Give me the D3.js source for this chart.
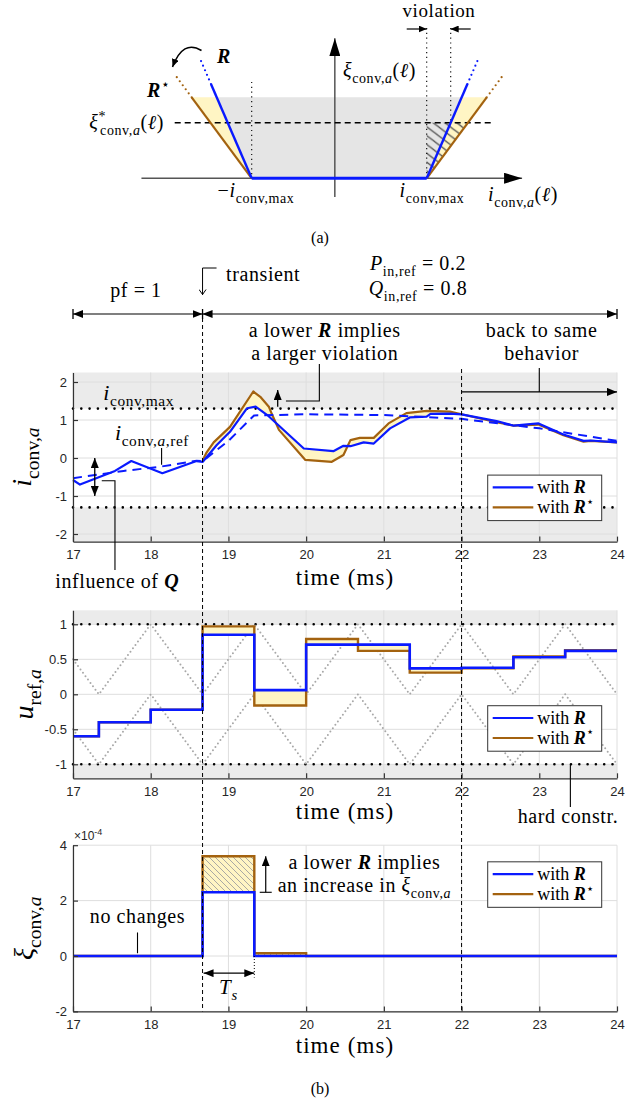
<!DOCTYPE html>
<html>
<head>
<meta charset="UTF-8" />
<title>Soft constraint violation</title>
<script src="https://d3js.org/d3.v7.min.js"></script>
<style>
  body { margin: 0; background: #fff; }
  text { white-space: pre; }
</style>
</head>
<body>
<div id="chart"></div>
<script>
// ---------------- data ----------------
const X_DOMAIN = [17, 24];
const X_TICKS = [17, 18, 19, 20, 21, 22, 23, 24];
const T_TRANSIENT = 18.667;
const T_BACK = 22;

// panel 1: converter current
const I_MAX = 1.3;
const I_TICKS = [-2, -1, 0, 1, 2];
const iT_R = [17, 17.09, 17.54, 17.75, 18.15, 18.59, 18.67, 18.85, 19.02, 19.24, 19.35, 19.5, 19.97, 20.35, 20.48, 20.57, 20.74, 20.87, 21.08, 21.34, 21.55, 21.6, 21.85, 22, 22.45, 22.67, 22.99, 23.31, 23.57, 23.66, 24];
const iV_R = [-0.58, -0.7, -0.34, -0.08, -0.4, -0.08, -0.1, 0.34, 0.69, 1.31, 1.35, 1.13, 0.25, 0.18, 0.32, 0.31, 0.41, 0.38, 0.78, 1.07, 1.09, 1.16, 1.17, 1.15, 0.97, 0.85, 0.91, 0.62, 0.45, 0.46, 0.41];
const iT_Rs = [18.67, 18.72, 18.81, 19.02, 19.32, 19.41, 19.52, 19.56, 19.65, 19.99, 20.33, 20.48, 20.57, 20.69, 20.87, 21.06, 21.29, 21.55, 21.85, 22, 22.45, 22.67, 22.99, 23.31, 23.57, 23.66, 24];
const iV_Rs = [-0.05, 0.15, 0.41, 0.82, 1.75, 1.61, 1.35, 1.15, 0.74, -0.05, -0.1, 0.08, 0.47, 0.53, 0.53, 0.91, 1.18, 1.24, 1.22, 1.15, 0.94, 0.85, 0.88, 0.6, 0.43, 0.45, 0.41];
const iT_ref = [17, 17.65, 18.12, 18.59, 18.67, 19.0, 19.33, 20, 21, 22, 23, 24];
const iV_ref = [-0.53, -0.34, -0.23, -0.07, -0.08, 0.45, 1.12, 1.15, 1.13, 1.03, 0.78, 0.45];

// panel 2: modulation reference (one value per sampling period)
const U_MAX = 1;
const U_TICKS = [-1, -0.5, 0, 0.5, 1];
const stepT = [17, 17.333, 18, 18.667, 19.333, 20, 20.667, 21.333, 22, 22.667, 23.333, 24];
const u_R  = [-0.6, -0.4, -0.22, 0.85, 0.06, 0.71, 0.71, 0.37, 0.38, 0.53, 0.62, 0.62];
const u_Rs = [-0.6, -0.4, -0.22, 0.97, -0.16, 0.79, 0.62, 0.31, 0.37, 0.54, 0.63, 0.63];
const carrierUp = [0.5, 0, 1, 0, 1, 0, 1, 0, 1, 0, 1, 0];
const carrierLo = [-0.5, -1, 0, -1, 0, -1, 0, -1, 0, -1, 0, -1];

// panel 3: slack variable (x1e-4)
const XI_TICKS = [-2, 0, 2, 4];
const xiT = [17, 18.667, 19.333, 20, 24];
const xi_R  = [0, 2.3, 0, 0, 0];
const xi_Rs = [0, 3.6, 0.1, 0, 0];

// schematic (a): constraint shapes, in units of i_conv,max and the shaded height
const SLOPE_R = 0.4;        // di per unit xi, with R
const SLOPE_RS = 0.686;     // di per unit xi, with R*
const XI_STAR = 0.686;

// ---------------- style ----------------
const SERIF = "'Liberation Serif','Times New Roman',serif";
const SANS = "'Liberation Sans',Arial,Helvetica,sans-serif";
const BLUE = "#0a1aff";
const BROWN = "#a3620f";
const YELLOW = "#fff5c4";
const BAND = "#ebebeb";
const GRID = "#dedede";
const AXIS = "#333";

const svg = d3.select("#chart").append("svg")
  .attr("width", 639).attr("height", 1104)
  .style("background", "#fff");

const defs = svg.append("defs");
function marker(id, w, h, open) {
  const m = defs.append("marker").attr("id", id)
    .attr("viewBox", `0 0 ${w} ${h}`).attr("refX", w).attr("refY", h / 2)
    .attr("markerWidth", w).attr("markerHeight", h)
    .attr("markerUnits", "userSpaceOnUse").attr("orient", "auto-start-reverse");
  if (open) {
    m.append("path").attr("d", `M0.5,0.5L${w - 0.5},${h / 2}L0.5,${h - 0.5}`)
      .attr("fill", "none").attr("stroke", "#000").attr("stroke-width", 1);
  } else {
    m.append("path").attr("d", `M0,0L${w},${h / 2}L0,${h}Z`).attr("fill", "#000");
  }
}
marker("ah", 10, 8);
marker("ahS", 8, 7);
marker("ahBig", 18, 11);
marker("av", 6, 8, true);

defs.append("pattern").attr("id", "hatch3").attr("patternUnits", "userSpaceOnUse")
  .attr("width", 6).attr("height", 6)
  .append("path").attr("d", "M-1,-1L7,7M-1,5L1,7M5,-1L7,1")
  .attr("stroke", "#a0a0a0").attr("stroke-width", 0.9);
defs.append("pattern").attr("id", "hatchA").attr("patternUnits", "userSpaceOnUse")
  .attr("width", 10).attr("height", 10).attr("patternTransform", "rotate(-8)")
  .append("path").attr("d", "M-1,-1L11,11M-1,9L1,11M9,-1L11,1")
  .attr("stroke", "#555").attr("stroke-width", 1.3);

function tex(parent, pieces, size, xx, yy, anchor) {
  const t = parent.append("text").attr("x", xx).attr("y", yy)
    .attr("font-family", SERIF).attr("font-size", size)
    .attr("text-anchor", anchor || "start").attr("fill", "#000");
  if (size >= 19 && size <= 22) t.attr("letter-spacing", 0.6);
  let cur = 0;
  pieces.forEach(p => {
    if (typeof p === "string") p = { t: p };
    const lvl = p.sub ? 0.28 * size : p.sup ? -0.42 * size : 0;
    const s = t.append("tspan").text(p.t).attr("dy", lvl - cur);
    if (p.sub || p.sup) s.attr("font-size", size * 0.7);
    if (p.it) s.attr("font-style", "italic");
    if (p.bf) s.attr("font-weight", "bold");
    if (p.dx) s.attr("dx", p.dx);
    cur = lvl;
  });
  return t;
}
const line = d3.line();
function poly(parent, pts, stroke, width, dash, marks) {
  const p = parent.append("path").attr("d", line(pts))
    .attr("fill", "none").attr("stroke", stroke).attr("stroke-width", width);
  if (dash) p.attr("stroke-dasharray", dash).attr("stroke-linecap", dash.startsWith("0") ? "round" : "butt");
  if (marks && marks.end) p.attr("marker-end", `url(#${marks.end})`);
  if (marks && marks.start) p.attr("marker-start", `url(#${marks.start})`);
  return p;
}

// ---------------- (a) schematic ----------------
const xs = d3.scaleLinear().domain([-1, 1]).range([251.7, 426.7]);
const ys = d3.scaleLinear().domain([0, 1]).range([178.3, 97.3]);
const ga = svg.append("g");

ga.append("path").attr("fill", "#e5e5e5").attr("d", line([
  [xs(-1 - SLOPE_R), ys(1)], [xs(1 + SLOPE_R), ys(1)], [xs(1), ys(0)], [xs(-1), ys(0)]
]) + "Z");
[-1, 1].forEach(s => {
  ga.append("path").attr("fill", YELLOW).attr("d", line([
    [xs(s * (1 + SLOPE_RS)), ys(1)], [xs(s * (1 + SLOPE_R)), ys(1)], [xs(s), ys(0)]
  ]) + "Z");
});
ga.append("path").attr("fill", "url(#hatchA)").attr("d", line([
  [xs(1), ys(XI_STAR)], [xs(1 + SLOPE_RS * XI_STAR), ys(XI_STAR)], [xs(1), ys(0)]
]) + "Z");

// axes of schematic
poly(ga, [[xs(-2.26), ys(0)], [xs(2.09), ys(0)]], "#555", 1.5, null, { end: "ahBig" });
poly(ga, [[xs(-0.05), ys(-0.23)], [xs(-0.05), ys(1.73)]], "#555", 1.5, null, { end: "ahBig" });

// dotted guides
const DOT = "1.2,3.6";
poly(ga, [[xs(-1), ys(1.19)], [xs(-1), ys(0)]], "#000", 1.1, DOT);
poly(ga, [[xs(1), 28], [xs(1), ys(0)]], "#000", 1.1, DOT);
poly(ga, [[xs(1 + SLOPE_R * XI_STAR), 28], [xs(1 + SLOPE_R * XI_STAR), ys(XI_STAR)]], "#000", 1.1, DOT);
// xi* dashed
poly(ga, [[xs(-1.88), ys(XI_STAR)], [xs(1.76), ys(XI_STAR)]], "#000", 1.6, "6,4");

// constraint lines
[-1, 1].forEach(s => {
  poly(ga, [[xs(s), ys(0)], [xs(s * (1 + SLOPE_RS)), ys(1)]], BROWN, 2.2);
  poly(ga, [[xs(s * (1 + SLOPE_RS)), ys(1)], [xs(s * (1 + SLOPE_RS * 1.26)), ys(1.26)]], BROWN, 2.2, "0,5");
  poly(ga, [[xs(s), ys(0)], [xs(s * (1 + SLOPE_R * 1.164)), ys(1.164)]], BLUE, 2.4);
  poly(ga, [[xs(s * (1 + SLOPE_R * 1.164)), ys(1.164)], [xs(s * (1 + SLOPE_R * 1.5)), ys(1.5)]], BLUE, 2.2, "0,5");
});
poly(ga, [[xs(-1), ys(0)], [xs(1), ys(0)]], BLUE, 3);

// violation arrows
poly(ga, [[xs(1) - 20, 29], [xs(1), 29]], "#000", 1.2, null, { end: "ahS" });
poly(ga, [[xs(1 + SLOPE_R * XI_STAR) + 20, 29], [xs(1 + SLOPE_R * XI_STAR), 29]], "#000", 1.2, null, { end: "ahS" });
tex(ga, ["violation"], 19, 439, 17, "middle");

// curved arrow R -> R*
ga.append("path").attr("d", "M201.5,50.5 Q183,39 172.5,67")
  .attr("fill", "none").attr("stroke", "#000").attr("stroke-width", 1.5)
  .attr("marker-end", "url(#ahS)");
tex(ga, [{ t: "R", it: 1, bf: 1 }], 20, 217, 63);
tex(ga, [{ t: "R", it: 1, bf: 1 }, { t: "⋆", sup: 1 }], 20, 147, 97);

tex(ga, [{ t: "ξ", it: 1 }, { t: "*", sup: 1 }, { t: "conv,", sub: 1, dx: -6 }, { t: "a", sub: 1, it: 1 }, "(", { t: "ℓ", it: 1 }, ")"], 20, 164, 129, "end");
tex(ga, [{ t: "ξ", it: 1 }, { t: "conv,", sub: 1 }, { t: "a", sub: 1, it: 1 }, "(", { t: "ℓ", it: 1 }, ")"], 20, 343, 77);
tex(ga, ["−", { t: "i", it: 1 }, { t: "conv,max", sub: 1 }], 20, 256, 197, "middle");
tex(ga, [{ t: "i", it: 1 }, { t: "conv,max", sub: 1 }], 20, 432, 197, "middle");
tex(ga, [{ t: "i", it: 1 }, { t: "conv,", sub: 1 }, { t: "a", sub: 1, it: 1 }, "(", { t: "ℓ", it: 1 }, ")"], 20, 488, 201);
tex(ga, ["(a)"], 16, 320, 243, "middle");

// ---------------- (b) time plots ----------------
const x = d3.scaleLinear().domain(X_DOMAIN).range([73, 617]);
const zip = (ts, vs) => ts.map((t, i) => [t, vs[i]]);

function makePanel(top, bottom, yDomain, yTicks, limit) {
  const y = d3.scaleLinear().domain(yDomain).range([bottom, top]);
  const g = svg.append("g");
  if (limit != null) {
    g.append("rect").attr("x", x(17)).attr("y", top).attr("width", x(24) - x(17))
      .attr("height", y(limit) - top).attr("fill", BAND);
    g.append("rect").attr("x", x(17)).attr("y", y(-limit)).attr("width", x(24) - x(17))
      .attr("height", bottom - y(-limit)).attr("fill", BAND);
  }
  g.append("g").selectAll("line").data(X_TICKS).join("line")
    .attr("x1", d => x(d)).attr("x2", d => x(d)).attr("y1", top).attr("y2", bottom)
    .attr("stroke", GRID).attr("stroke-width", 1);
  g.append("g").selectAll("line").data(yTicks).join("line")
    .attr("x1", x(17)).attr("x2", x(24)).attr("y1", d => y(d)).attr("y2", d => y(d))
    .attr("stroke", GRID).attr("stroke-width", 1);
  if (limit != null) {
    [limit, -limit].forEach(v => poly(g, [[x(17), y(v)], [x(24), y(v)]], "#000", 2.6, "0,8.3"));
  }
  return { g, y, top, bottom, yTicks };
}
function axes(p) {
  const gx = p.g.append("g").attr("transform", `translate(0,${p.bottom})`)
    .call(d3.axisBottom(x).tickValues(X_TICKS).tickSize(-5).tickSizeOuter(0).tickPadding(8).tickFormat(d => String(d)));
  const gy = p.g.append("g").attr("transform", `translate(${x(17)},0)`)
    .call(d3.axisLeft(p.y).tickValues(p.yTicks).tickSize(-5).tickSizeOuter(0).tickPadding(6).tickFormat(d => String(d)));
  [gx, gy].forEach(a => {
    a.selectAll("path,line").attr("stroke", AXIS).attr("stroke-width", 1.2);
    a.selectAll("text").attr("font-family", SANS).attr("font-size", 13).attr("fill", "#262626");
  });
}
function legend(p, yv) {
  const top = p.y(yv), left = 487.7;
  const g = p.g.append("g");
  g.append("rect").attr("x", left).attr("y", top).attr("width", 114).attr("height", 45.5)
    .attr("fill", "#fff").attr("stroke", "#333").attr("stroke-width", 1);
  [[BLUE, false], [BROWN, true]].forEach(([c, star], k) => {
    const yy = top + 12.3 + 20 * k;
    poly(g, [[left + 5, yy], [left + 45.6, yy]], c, 2.2);
    const parts = ["with ", { t: "R", it: 1, bf: 1 }];
    if (star) parts.push({ t: "⋆", sup: 1 });
    tex(g, parts, 18, left + 49.5, yy + 6);
  });
}
function timeLabel(p, off) {
  tex(p.g, ["time (ms)"], 23, x(20.5), p.bottom + off, "middle").attr("letter-spacing", 1.1);
}
function yLabel(p, pieces, xx) {
  tex(p.g, pieces, 28, 0, 0, "middle")
    .attr("transform", `translate(${xx},${(p.top + p.bottom) / 2}) rotate(-90)`);
}

// ----- panel 1 -----
const p1 = makePanel(372.5, 541.6, [-2.2, 2.25], I_TICKS, I_MAX);
{
  const y = p1.y, g = p1.g;
  const bl = zip(iT_R, iV_R), br = zip(iT_Rs, iV_Rs);
  const fillPts = br.filter(d => d[0] <= T_BACK)
    .concat(bl.filter(d => d[0] >= 18.67 && d[0] <= T_BACK).reverse());
  g.append("path").attr("d", line(fillPts.map(d => [x(d[0]), y(d[1])])) + "Z").attr("fill", YELLOW);
  poly(g, br.map(d => [x(d[0]), y(d[1])]), BROWN, 2.2).attr("stroke-linejoin", "round");
  poly(g, bl.map(d => [x(d[0]), y(d[1])]), BLUE, 2.2).attr("stroke-linejoin", "round");
  poly(g, zip(iT_ref, iV_ref).map(d => [x(d[0]), y(d[1])]), BLUE, 2, "9,6");
  axes(p1);
  legend(p1, -0.45);
  timeLabel(p1, 43);
  yLabel(p1, [{ t: "i", it: 1 }, { t: "conv,", sub: 1 }, { t: "a", sub: 1, it: 1 }], 31);

  tex(g, [{ t: "i", it: 1 }, { t: "conv,max", sub: 1 }], 22, x(17.39), 400);
  tex(g, [{ t: "i", it: 1 }, { t: "conv,", sub: 1 }, { t: "a", sub: 1, it: 1 }, { t: ",ref", sub: 1 }], 22, x(17.54), 440);
  poly(g, [[x(18.14), 448], [x(18.14), y(-0.18)]], "#000", 1.1);
  // influence of Q
  poly(g, [[x(17.28), y(-0.5)], [x(17.28), y(0)]], "#000", 1.3, null, { end: "ah" });
  poly(g, [[x(17.28), y(-0.5)], [x(17.28), y(-1)]], "#000", 1.3, null, { end: "ah" });
  poly(g, [[x(17.37), y(-0.6)], [x(17.54), y(-0.6)], [x(17.54), 570]], "#000", 1.1);
  tex(g, ["influence of ", { t: "Q", it: 1, bf: 1 }], 20, x(17.57), 588, "middle");
  // larger violation
  poly(g, [[x(19.634), y(1.35)], [x(19.634), y(1.79)]], "#000", 1.3, null, { end: "ah" });
  poly(g, [[x(19.74), y(1.5)], [x(20.17), y(1.5)], [x(20.17), 364]], "#000", 1.1);
  // back to same behavior
  poly(g, [[x(23), 368], [x(23), y(1.74)]], "#000", 1.1);
  poly(g, [[x(T_BACK), y(1.74)], [x(24), y(1.74)]], "#000", 1.1, null, { end: "ah" });
}

// ----- panel 2 -----
const p2 = makePanel(610.3, 778.3, [-1.2, 1.2], U_TICKS, U_MAX);
{
  const y = p2.y, g = p2.g;
  const lineC = d3.line().x(d => x(d[0])).y(d => y(d[1]));
  g.append("path").attr("d", lineC(zip(stepT, carrierUp))).attr("fill", "none")
    .attr("stroke", "#a8a8a8").attr("stroke-width", 2).attr("stroke-dasharray", "0,4.2").attr("stroke-linecap", "round");
  g.append("path").attr("d", lineC(zip(stepT, carrierLo))).attr("fill", "none")
    .attr("stroke", "#a8a8a8").attr("stroke-width", 2).attr("stroke-dasharray", "0,4.2").attr("stroke-linecap", "round");
  const area = d3.area().curve(d3.curveStepAfter)
    .x((d, i) => x(stepT[i])).y0((d, i) => y(u_R[i])).y1((d, i) => y(u_Rs[i]));
  g.append("path").attr("d", area(stepT)).attr("fill", YELLOW);
  const step = d3.line().curve(d3.curveStepAfter).x(d => x(d[0])).y(d => y(d[1]));
  g.append("path").attr("d", step(zip(stepT, u_Rs))).attr("fill", "none").attr("stroke", BROWN).attr("stroke-width", 2.4);
  g.append("path").attr("d", step(zip(stepT, u_R))).attr("fill", "none").attr("stroke", BLUE).attr("stroke-width", 2.6);
  axes(p2);
  legend(p2, -0.163);
  timeLabel(p2, 41);
  yLabel(p2, [{ t: "u", it: 1 }, { t: "ref,", sub: 1 }, { t: "a", sub: 1, it: 1 }], 33);
  poly(g, [[x(23.4), y(-1)], [x(23.4), 807]], "#000", 1.1);
  tex(g, ["hard constr."], 20, 568, 823, "middle");
}

// ----- panel 3 -----
const p3 = makePanel(845.2, 1011.4, [-2, 4], XI_TICKS, null);
{
  const y = p3.y, g = p3.g;
  const area = d3.area().curve(d3.curveStepAfter)
    .x((d, i) => x(xiT[i])).y0((d, i) => y(xi_R[i])).y1((d, i) => y(xi_Rs[i]));
  g.append("path").attr("d", area(xiT)).attr("fill", YELLOW);
  g.append("path").attr("d", area(xiT)).attr("fill", "url(#hatch3)");
  const step = d3.line().curve(d3.curveStepAfter).x(d => x(d[0])).y(d => y(d[1]));
  g.append("path").attr("d", step(zip(xiT, xi_Rs))).attr("fill", "none").attr("stroke", BROWN).attr("stroke-width", 2.4);
  g.append("path").attr("d", step(zip(xiT, xi_R))).attr("fill", "none").attr("stroke", BLUE).attr("stroke-width", 2.6);
  axes(p3);
  legend(p3, 3.4);
  timeLabel(p3, 41.5);
  yLabel(p3, [{ t: "ξ", it: 1 }, { t: "conv,", sub: 1 }, { t: "a", sub: 1, it: 1 }], 33);

  const ex = g.append("text").attr("x", x(17) + 1).attr("y", 840)
    .attr("font-family", SANS).attr("font-size", 12).attr("fill", "#262626");
  ex.append("tspan").text("×10");
  ex.append("tspan").text("-4").attr("font-size", 9).attr("dy", -5);

  // increase annotation
  poly(g, [[x(19.48) - 6, y(2.3)], [x(19.48) + 6, y(2.3)]], "#000", 1.1);
  poly(g, [[x(19.48), y(2.3)], [x(19.48), y(3.6)]], "#000", 1.2, null, { end: "ah" });
  tex(g, ["a lower ", { t: "R", it: 1, bf: 1 }, " implies"], 20, x(20.75), 869, "middle");
  tex(g, ["an increase in ", { t: "ξ", it: 1 }, { t: "conv,", sub: 1 }, { t: "a", sub: 1, it: 1 }], 20, x(20.75), 892, "middle");
  // no changes
  tex(g, ["no changes"], 20, x(17.83), 923, "middle");
  poly(g, [[x(17.83), y(0.85)], [x(17.83), y(0.1)]], "#000", 1.1);
  // sampling period
  poly(g, [[x(19.333), y(0)], [x(19.333), y(-0.78)]], "#000", 1, "1,2");
  poly(g, [[x(T_TRANSIENT) + 1, y(-0.62)], [x(19.333), y(-0.62)]], "#000", 1.3, null, { start: "ah", end: "ah" });
  tex(g, [{ t: "T", it: 1 }, { t: "s", sub: 1, it: 1 }], 21, x(19.0), 994, "middle");
  tex(g, ["(b)"], 16, 320, 1094, "middle");
}

// ---------------- shared annotations ----------------
{
  const g = svg.append("g");
  poly(g, [[x(T_TRANSIENT), 318], [x(T_TRANSIENT), p3.bottom]], "#000", 1, "4,3");
  poly(g, [[x(T_BACK), 369], [x(T_BACK), p3.bottom]], "#000", 1, "4,3");

  // phase arrows
  const ya = 314;
  poly(g, [[x(17), ya], [x(T_TRANSIENT), ya]], "#000", 1.2, null, { start: "ah", end: "ah" });
  poly(g, [[x(T_TRANSIENT), ya], [x(24), ya]], "#000", 1.2, null, { start: "ah", end: "ah" });
  [x(17), x(T_TRANSIENT), x(24)].forEach(px => poly(g, [[px, ya - 5], [px, ya + 5]], "#000", 1.3));

  tex(g, ["pf = 1"], 20, x(17.81), 297, "middle");
  poly(g, [[x(T_TRANSIENT) + 14, 268], [x(T_TRANSIENT), 268], [x(T_TRANSIENT), 295]], "#000", 1, null, { end: "av" });
  tex(g, ["transient"], 20, 226, 281);
  tex(g, [{ t: "P", it: 1 }, { t: "in,ref", sub: 1 }, " = 0.2"], 20, x(21.44), 270, "middle");
  tex(g, [{ t: "Q", it: 1 }, { t: "in,ref", sub: 1 }, " = 0.8"], 20, x(21.44), 295, "middle");
  tex(g, ["a lower ", { t: "R", it: 1, bf: 1 }, " implies"], 20, x(20.24), 337, "middle");
  tex(g, ["a larger violation"], 20, x(20.24), 359.5, "middle");
  tex(g, ["back to same"], 20, x(23.03), 337, "middle");
  tex(g, ["behavior"], 20, x(23.03), 359.5, "middle");
}
</script>
</body>
</html>
